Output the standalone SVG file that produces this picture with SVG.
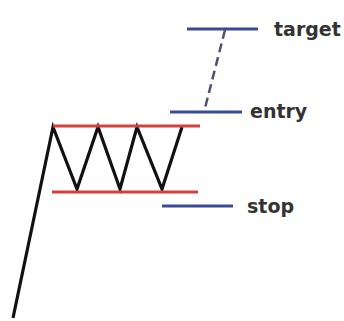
<svg xmlns="http://www.w3.org/2000/svg" width="344" height="321" viewBox="0 0 344 321">
<style>
.lbl{font-family:"DejaVu Sans",sans-serif;font-weight:bold;font-size:19px;fill:#333}
.blue{stroke:#3b4a96;stroke-width:3;fill:none}
.red{stroke:#d2403f;stroke-width:3;fill:none}
</style>
<rect width="344" height="321" fill="#fff"/>
<g id="price">
<polyline points="13,318 53,127 77,189 98,127 120,189 137,127 162,189 182,127" fill="none" stroke="#111" stroke-width="3.2" stroke-linejoin="miter"/>
</g>
<g id="range">
<line class="red" x1="53" y1="126" x2="200" y2="126"/>
<line class="red" x1="52" y1="192" x2="198" y2="192"/>
</g>
<g id="target">
<line class="blue" x1="187" y1="29" x2="258" y2="29"/>
<text class="lbl" x="274" y="36">target</text>
</g>
<g id="entry">
<line class="blue" x1="170" y1="112" x2="242" y2="112"/>
<text class="lbl" x="250" y="118">entry</text>
</g>
<g id="stop">
<line class="blue" x1="162" y1="206" x2="233" y2="206"/>
<text class="lbl" x="247" y="213">stop</text>
</g>
<g id="connectors">
<line x1="225" y1="30" x2="204" y2="112" stroke="#4d5270" stroke-width="2.5" stroke-dasharray="9,5"/>
</g>
</svg>
